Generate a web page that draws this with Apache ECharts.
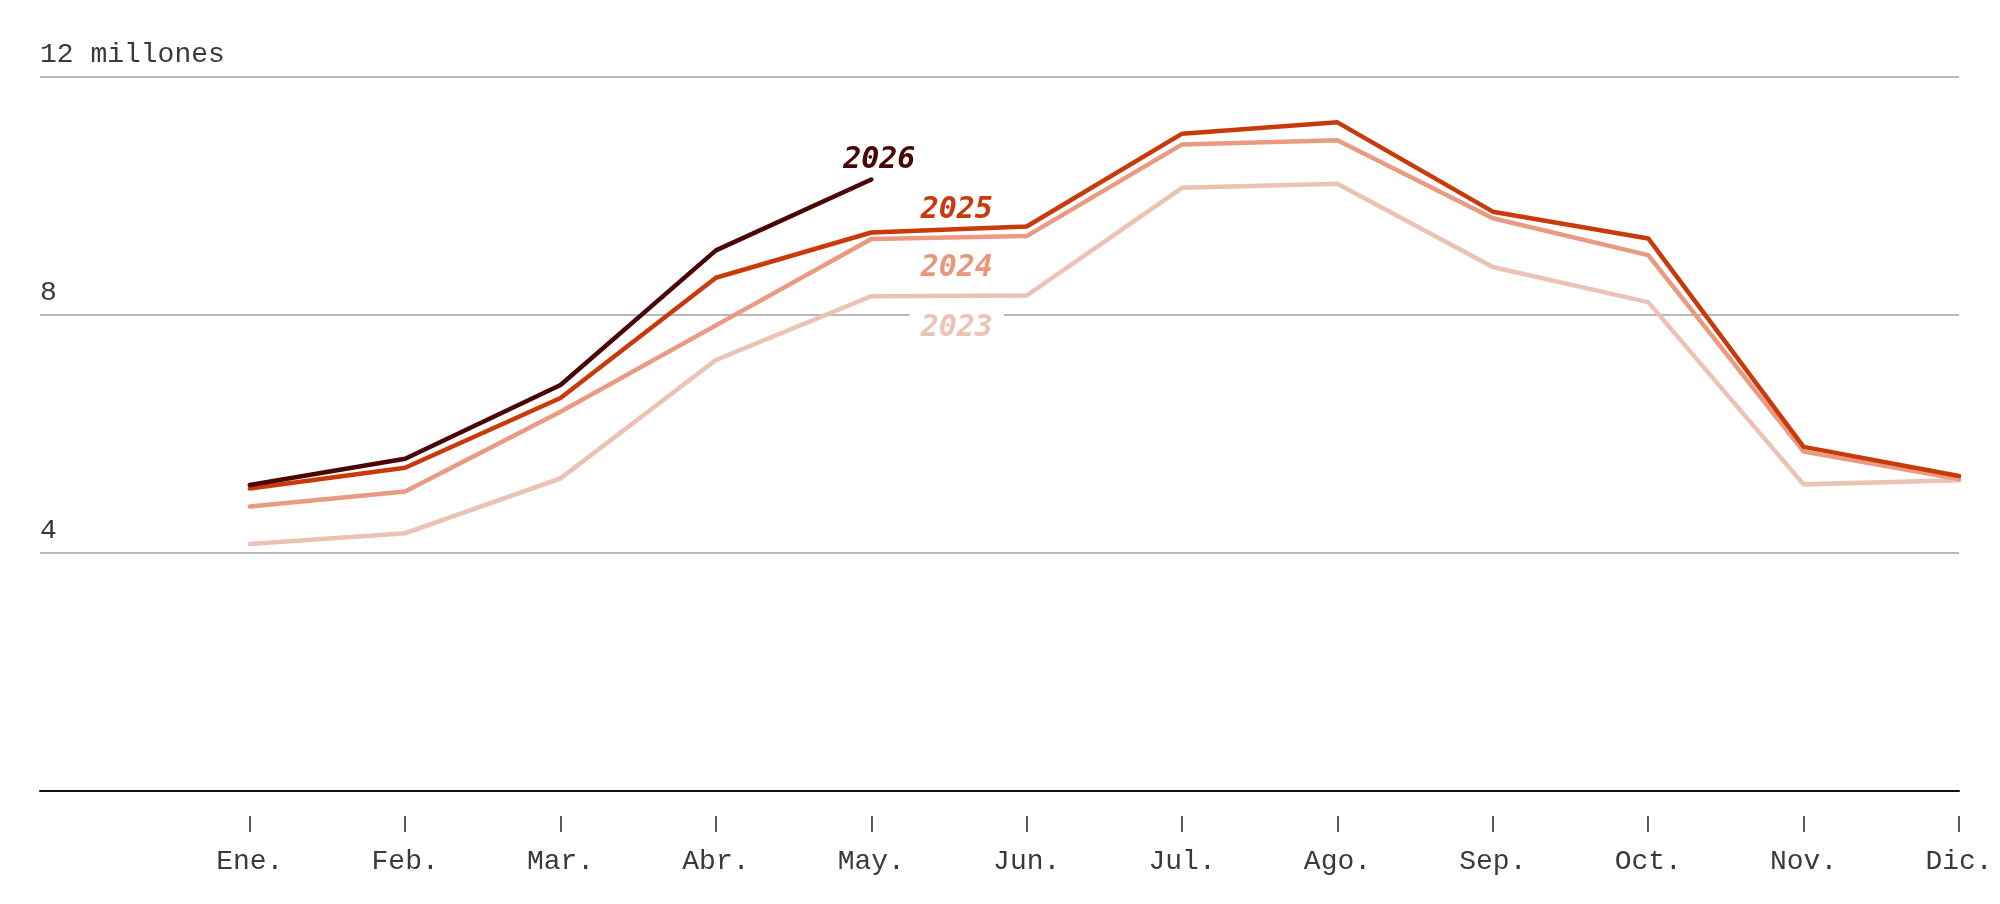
<!DOCTYPE html>
<html>
<head>
<meta charset="utf-8">
<script src="https://cdn.jsdelivr.net/npm/echarts@6/dist/echarts.min.js"></script>
<style>
html,body{margin:0;padding:0;background:#fff;}
#chart{width:2000px;height:904px;}
</style>
</head>
<body>
<div id="chart"></div>
<script>
const months = ['Ene.','Feb.','Mar.','Abr.','May.','Jun.','Jul.','Ago.','Sep.','Oct.','Nov.','Dic.'];
const y2023 = [4.15, 4.33, 5.25, 7.24, 8.31, 8.32, 10.13, 10.20, 8.80, 8.21, 5.15, 5.22];
const y2024 = [4.78, 5.03, 6.37, 7.82, 9.27, 9.32, 10.86, 10.93, 9.62, 9.00, 5.70, 5.24];
const y2025 = [5.08, 5.43, 6.60, 8.62, 9.38, 9.48, 11.04, 11.23, 9.73, 9.28, 5.78, 5.29];
const y2026 = [5.14, 5.58, 6.82, 9.08, 10.27];
const yTicks = [0, 4, 8, 12];

const AXFONT = '"Liberation Mono", "DejaVu Sans Mono", monospace';
const LBFONT = '"DejaVu Sans Mono", monospace';

function pts(arr){ return arr.map((v,i)=>[i,v]); }
function midLabel(name, arr, color, dy, extra){
  const yv = (arr[4]+arr[5])/2;
  return {
    symbol:'rect', symbolSize:1, itemStyle:{color:'rgba(0,0,0,0)'},
    silent:true,
    data:[{name:name, coord:[4.55, yv]}],
    label:Object.assign({show:true, position:'inside', formatter:name, offset:[0,dy],
      color:color, fontFamily:LBFONT, fontSize:30, fontWeight:'bold', fontStyle:'italic'}, extra||{})
  };
}
const colors = {y2023:'#ebc2b3', y2024:'#e99a80', y2025:'#c93a0b', y2026:'#4a0505'};

const chart = echarts.init(document.getElementById('chart'), null, {renderer:'canvas'});
const xBase = {type:'value', min:-1.35, max:11, splitLine:{show:false}};
chart.setOption({
  animation:false,
  backgroundColor:'#fff',
  grid:{left:40, right:41, top:76.5, bottom:113, containLabel:false},
  xAxis:[
    Object.assign({}, xBase, {
      axisLine:{show:true, onZero:false, lineStyle:{color:'#111', width:2}},
      axisTick:{show:false}, axisLabel:{show:false}
    }),
    Object.assign({}, xBase, {
      position:'bottom', offset:25,
      axisLine:{show:false, onZero:false},
      axisTick:{show:true, customValues:months.map((m,i)=>i), length:16, inside:false,
        lineStyle:{color:'#333', width:1.6}},
      axisLabel:{show:true, customValues:months.map((m,i)=>i), margin:32,
        formatter:v=>months[Math.round(v)] || '',
        color:'#3a3a3a', fontFamily:AXFONT, fontSize:28}
    })
  ],
  yAxis:{
    type:'value', min:0, max:12, interval:4,
    axisLine:{show:false}, axisTick:{show:false},
    splitLine:{show:true, lineStyle:{color:'#a0a0a0', width:1.5}},
    axisLabel:{inside:true, margin:0, verticalAlign:'bottom', align:'left', padding:[0,0,8,0],
      showMaxLabel:true, showMinLabel:true,
      formatter:v=> v===0 ? '' : (v===12 ? '12 millones' : String(v)),
      color:'#3a3a3a', fontFamily:AXFONT, fontSize:28}
  },
  series:[
    {name:'2023', type:'line', data:pts(y2023), showSymbol:false, symbol:'none', z:2,
     lineStyle:{color:colors.y2023, width:4.5, cap:'round', join:'miter'},
     markPoint:midLabel('2023', y2023, '#ebc2b3', 32, {backgroundColor:'#fff', padding:[0,11]})},
    {name:'2024', type:'line', data:pts(y2024), showSymbol:false, symbol:'none', z:3,
     lineStyle:{color:colors.y2024, width:4.5, cap:'round'},
     markPoint:midLabel('2024', y2024, '#e8977c', 31)},
    {name:'2025', type:'line', data:pts(y2025), showSymbol:false, symbol:'none', z:4,
     lineStyle:{color:colors.y2025, width:4.5, cap:'round'},
     markPoint:midLabel('2025', y2025, '#c93a0b', -19)},
    {name:'2026', type:'line', data:pts(y2026), showSymbol:false, symbol:'none', z:5,
     lineStyle:{color:colors.y2026, width:4.5, cap:'round'},
     markPoint:{symbol:'rect', symbolSize:1, itemStyle:{color:'rgba(0,0,0,0)'}, silent:true,
       data:[{name:'2026', coord:[y2026.length-1, y2026[y2026.length-1]]}],
       label:{show:true, position:'inside', formatter:'2026', offset:[8,-19],
         color:'#4a0505', fontFamily:LBFONT, fontSize:30, fontWeight:'bold', fontStyle:'italic'}}}
  ]
});
</script>
</body>
</html>
